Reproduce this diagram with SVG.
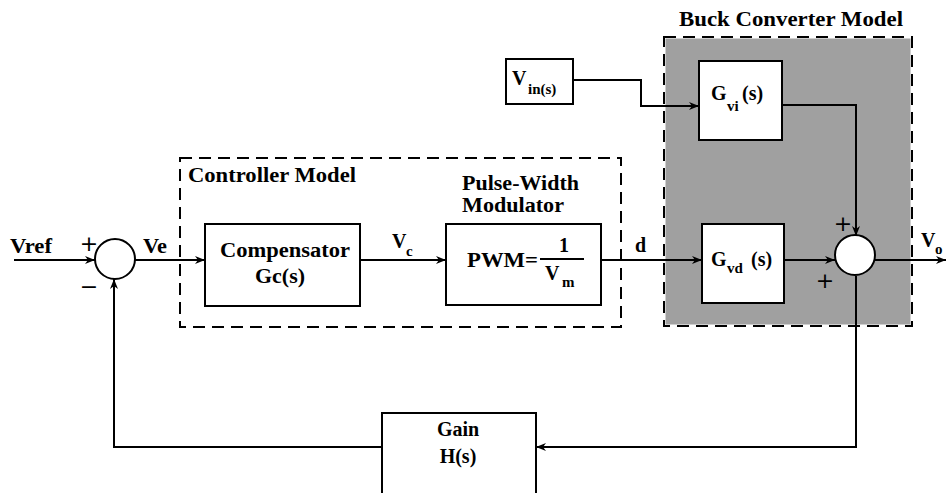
<svg xmlns="http://www.w3.org/2000/svg" width="946" height="493" viewBox="0 0 946 493">
<defs>
<marker id="ah" viewBox="0 0 10 8" refX="10" refY="4" markerWidth="10" markerHeight="8" markerUnits="userSpaceOnUse" orient="auto">
<path d="M0,0 L10,4 L0,8 L3,4 Z" fill="#000"/>
</marker>
<style>
text{font-family:"Times New Roman","Liberation Serif",Times,serif;font-weight:700;font-size:20px;fill:#000}
.sub{font-size:15px}
.pm{font-family:"DejaVu Sans",sans-serif;font-size:22px;font-weight:400}
.blk{fill:#fff;stroke:#000;stroke-width:2}
.sum{fill:#fff;stroke:#000;stroke-width:2}
.dash{fill:none;stroke:#000;stroke-width:2;stroke-dasharray:12 7}
.ln{fill:none;stroke:#000;stroke-width:2}
.arr{marker-end:url(#ah)}
</style>
</defs>
<rect width="946" height="493" fill="#fff"/>

<g id="buck-region">
<rect x="664" y="37" width="248" height="289" fill="#a0a0a0" stroke="#fff" stroke-width="3"/>
<rect x="664" y="37" width="248" height="289" class="dash"/>
<text x="679" y="26" textLength="224" lengthAdjust="spacingAndGlyphs">Buck Converter Model</text>
</g>

<g id="controller-region">
<rect x="180" y="158" width="441" height="169" class="dash"/>
<text x="188" y="182" textLength="168" lengthAdjust="spacingAndGlyphs">Controller Model</text>
</g>

<g id="connectors">
<line x1="14" y1="260" x2="95" y2="260" class="ln arr"/>
<line x1="135" y1="260" x2="205" y2="260" class="ln arr"/>
<line x1="360" y1="260" x2="446" y2="260" class="ln arr"/>
<line x1="601" y1="260" x2="702" y2="260" class="ln arr"/>
<polyline points="573,80 641,80 641,106 699,106" class="ln arr"/>
<polyline points="782,105 856,105 856,236" class="ln arr"/>
<line x1="784" y1="260" x2="835" y2="260" class="ln arr"/>
<line x1="875" y1="260" x2="946" y2="260" class="ln arr"/>
<polyline points="856,276 856,447 536,447" class="ln arr"/>
<polyline points="382,447 114,447 114,279" class="ln arr"/>
</g>

<g id="sum1">
<circle cx="115" cy="259" r="20" class="sum"/>
<text class="pm" x="89" y="251" text-anchor="middle">+</text>
<text class="pm" x="89" y="294" text-anchor="middle">−</text>
</g>

<g id="vref-label"><text x="10" y="253" textLength="42" lengthAdjust="spacingAndGlyphs">Vref</text></g>
<g id="ve-label"><text x="143" y="253" textLength="24" lengthAdjust="spacingAndGlyphs">Ve</text></g>

<g id="compensator">
<rect x="205" y="224" width="155" height="82" class="blk"/>
<text x="220" y="257" textLength="130" lengthAdjust="spacingAndGlyphs">Compensator</text>
<text x="255" y="283" textLength="50" lengthAdjust="spacingAndGlyphs">Gc(s)</text>
</g>

<g id="vc-label"><text x="392" y="248">V<tspan class="sub" x="406" y="256">c</tspan></text></g>

<g id="pwm">
<text x="462" y="190" textLength="117" lengthAdjust="spacingAndGlyphs">Pulse-Width</text>
<text x="462" y="212" textLength="102" lengthAdjust="spacingAndGlyphs">Modulator</text>
<rect x="446" y="224" width="155" height="81" class="blk"/>
<text x="467" y="267" textLength="71" lengthAdjust="spacingAndGlyphs">PWM=</text>
<text x="564" y="252" text-anchor="middle">1</text>
<line x1="540" y1="259" x2="584" y2="259" class="ln"/>
<text x="545" y="280">V<tspan class="sub" x="562" y="287">m</tspan></text>
</g>

<g id="d-label"><text x="635" y="252">d</text></g>

<g id="vin">
<rect x="506" y="59" width="67" height="45" class="blk"/>
<text x="512" y="85">V<tspan class="sub" x="528" y="94">in(s)</tspan></text>
</g>

<g id="gvi">
<rect x="699" y="61" width="83" height="79" class="blk"/>
<text x="711" y="100">G<tspan class="sub" x="727" y="111">vi</tspan><tspan x="742" y="100">(s)</tspan></text>
</g>

<g id="gvd">
<rect x="702" y="224" width="82" height="79" class="blk"/>
<text x="711" y="266">G<tspan class="sub" x="727" y="273">vd</tspan><tspan x="751" y="266">(s)</tspan></text>
</g>

<g id="sum2">
<circle cx="855" cy="255" r="20" class="sum"/>
<text class="pm" x="843" y="231" text-anchor="middle">+</text>
<text class="pm" x="825" y="288" text-anchor="middle">+</text>
</g>

<g id="vo-label"><text x="921" y="247">V<tspan class="sub" x="935" y="254">o</tspan></text></g>

<g id="gain">
<rect x="382" y="413" width="154" height="90" class="blk"/>
<text x="458" y="436" text-anchor="middle">Gain</text>
<text x="458" y="463" text-anchor="middle">H(s)</text>
</g>
</svg>
